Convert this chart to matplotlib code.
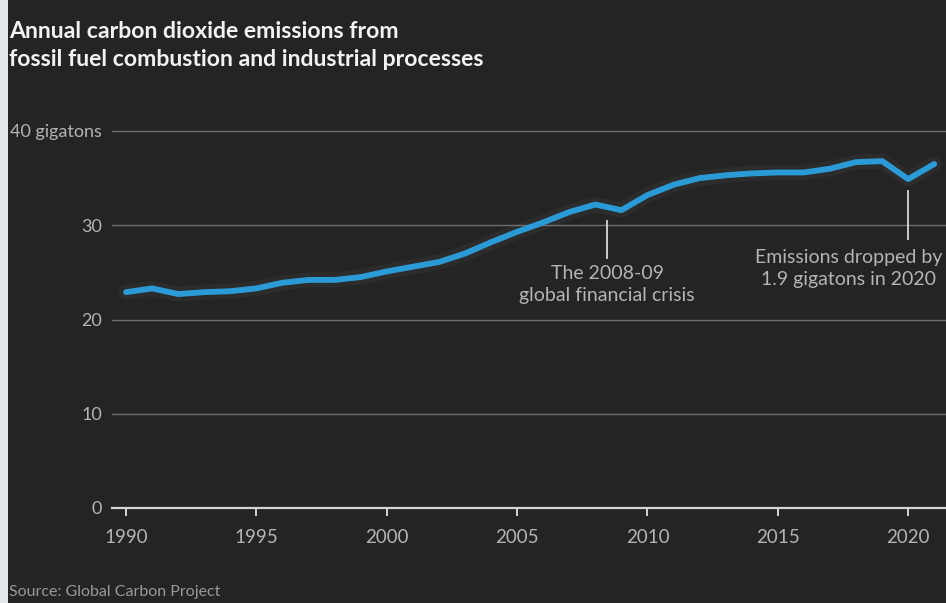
import matplotlib
matplotlib.use("Agg")
import matplotlib.pyplot as plt
from matplotlib.patches import Rectangle

# Annual CO2 emissions from fossil fuels and industry, gigatons
years = list(range(1990, 2022))
emissions = [22.9, 23.3, 22.7, 22.9, 23.0, 23.3, 23.9, 24.2, 24.2, 24.5,
             25.1, 25.6, 26.1, 27.0, 28.2, 29.3, 30.3, 31.4, 32.2, 31.6,
             33.2, 34.3, 35.0, 35.3, 35.5, 35.6, 35.6, 36.0, 36.7, 36.8,
             34.9, 36.5]

x_ticks = [1990, 1995, 2000, 2005, 2010, 2015, 2020]
y_ticks = [0, 10, 20, 30, 40]
y_tick_labels = ["0", "10", "20", "30", "40 gigatons"]

title = "Annual carbon dioxide emissions from\nfossil fuel combustion and industrial processes"
source = "Source: Global Carbon Project"

crisis_year = 2008.45
crisis_text = "The 2008-09\nglobal financial crisis"
drop_year = 2020
drop_text = "Emissions dropped by\n1.9 gigatons in 2020"

BG = "#242424"
TEXT = "#b4b4b4"
GRID = "#6e6e6e"
AXIS = "#d4d4d4"
BLUE = "#2b9bd8"

plt.rcParams["font.family"] = ["Lato", "DejaVu Sans"]

W, H = 946, 603
fig = plt.figure(figsize=(W / 100, H / 100), dpi=100, facecolor=BG)

def fx(px):
    return px / W

def fy(py):
    return 1 - py / H

left, right = 112, 946
bottom, top = 508, 131
ax = fig.add_axes([fx(left), fy(bottom), fx(right - left), fy(top) - fy(bottom)])
ax.set_facecolor(BG)

ax.set_xlim(1989.46, 2021.45)
ax.set_ylim(0, 40)

for v in y_ticks[1:]:
    ax.axhline(v, color=GRID, lw=1.0, zorder=1, clip_on=False)
ax.axhline(0, color=AXIS, lw=1.6, zorder=2, clip_on=False)

# soft halo under the series
ax.plot(years, emissions, color="#9a9a9a", lw=11, alpha=0.07,
        solid_capstyle="round", solid_joinstyle="round", zorder=3)
ax.plot(years, emissions, color=BLUE, lw=4.2,
        solid_capstyle="round", solid_joinstyle="round", zorder=4)

for s in ax.spines.values():
    s.set_visible(False)

ax.set_xticks(x_ticks)
ax.set_xticklabels([str(t) for t in x_ticks])
ax.set_yticks(y_ticks)
ax.set_yticklabels(y_tick_labels)
ax.tick_params(axis="x", colors=AXIS, length=6, width=1.4, pad=9,
               labelsize=13.5, labelcolor=TEXT)
ax.tick_params(axis="y", length=0, pad=7, labelsize=13, labelcolor=TEXT)

# annotation markers
ax.plot([crisis_year, crisis_year], [30.4, 26.5], color="#d8d8d8", lw=1.3, zorder=5)
ax.text(crisis_year, 25.8, crisis_text, ha="center", va="top", color=TEXT,
        fontsize=14, linespacing=1.4)
ax.plot([drop_year, drop_year], [33.6, 28.5], color="#d8d8d8", lw=1.3, zorder=5)
ax.text(2017.7, 27.5, drop_text, ha="center", va="top", color=TEXT,
        fontsize=14, linespacing=1.4)

fig.text(fx(9), fy(21), title, ha="left", va="top", color="#f2f2f2",
         fontsize=16.6, fontweight="bold", linespacing=1.4)
fig.text(fx(9), fy(592), source, ha="left", va="center", color="#9a9a9a",
         fontsize=11.5)

# pale strip along the left edge
fig.patches.append(Rectangle((0, 0), fx(8), 1, transform=fig.transFigure,
                             facecolor="#e3e6e8", edgecolor="none", zorder=10))

fig.savefig("out.png", dpi=100, facecolor=BG)
